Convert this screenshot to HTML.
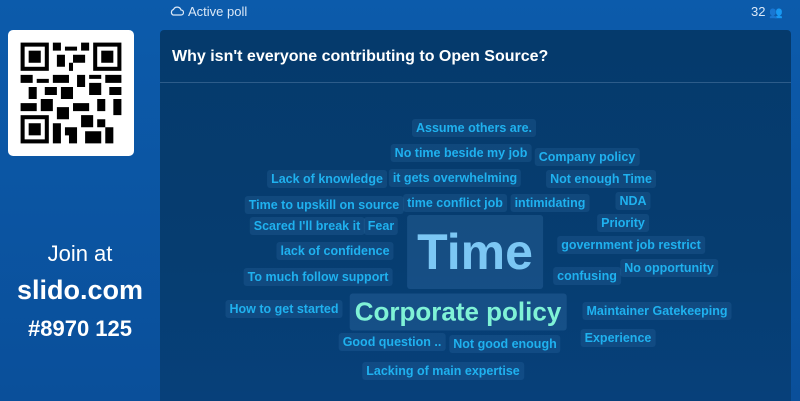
<!DOCTYPE html>
<html><head><meta charset="utf-8"><style>
html,body{margin:0;padding:0;}
body{width:800px;height:401px;overflow:hidden;position:relative;background:linear-gradient(180deg,#0c5bab 0%,#0a4f9a 100%);font-family:"Liberation Sans",sans-serif;}
.top{position:absolute;top:4px;color:#dbe8f7;font-size:13px;}
.qr{position:absolute;left:8px;top:30px;width:126px;height:126px;background:#fff;border-radius:5px;}
.join{position:absolute;left:0;width:160px;text-align:center;color:#fff;}
.panel{position:absolute;left:160px;top:30px;width:631px;height:371px;background:linear-gradient(180deg,#053a6c 0%,#063d70 60%,#07407a 100%);border-radius:4px 4px 0 0;}
.title{position:absolute;left:12px;top:18px;color:#fff;font-weight:bold;font-size:16px;}
.sep{position:absolute;left:0;right:0;top:52px;height:1px;background:#2d5c8a;}
.w{position:absolute;transform:translate(-50%,-50%);white-space:nowrap;font-weight:bold;font-size:12.5px;color:#1fb1ef;background:rgba(80,150,210,0.15);padding:2px 4px;border-radius:3px;}
</style></head><body>
<div class="top" style="left:170px"><svg width="14" height="10" viewBox="0 0 14 10" style="margin-right:4px"><path d="M3 9 A3 3 0 0 1 3.5 3.5 A4 4 0 0 1 11 4 A2.5 2.5 0 0 1 11 9 Z" fill="none" stroke="#dbe8f7" stroke-width="1.2"/></svg>Active poll</div>
<div class="top" style="left:751px">32 <span style="font-size:11px">&#128101;</span></div>
<div class="qr">
<svg width="126" height="126" viewBox="0 0 25 25" style="position:absolute;left:0;top:0">
<g transform="translate(2.5,2.5) scale(0.8)">
<rect x="0" y="0" width="7" height="7" fill="#000"/><rect x="1" y="1" width="5" height="5" fill="#fff"/><rect x="2" y="2" width="3" height="3" fill="#000"/>
<rect x="18" y="0" width="7" height="7" fill="#000"/><rect x="19" y="1" width="5" height="5" fill="#fff"/><rect x="20" y="2" width="3" height="3" fill="#000"/>
<rect x="0" y="18" width="7" height="7" fill="#000"/><rect x="1" y="19" width="5" height="5" fill="#fff"/><rect x="2" y="20" width="3" height="3" fill="#000"/>
<path d="M8 0h2v2h-2zM11 1h3v1h-3zM9 3h2v3h-2zM13 3h3v2h-3zM15 0h2v2h-2zM12 5h1v2h-1zM0 8h3v2h-3zM4 9h3v1h-3zM8 8h4v2h-4zM14 8h2v3h-2zM17 8h3v1h-3zM21 8h4v2h-4zM2 11h2v3h-2zM6 11h3v2h-3zM10 11h3v3h-3zM17 10h3v3h-3zM22 11h3v2h-3zM0 15h4v2h-4zM5 14h3v3h-3zM13 15h4v2h-4zM19 14h2v3h-2zM23 14h2v4h-2zM9 16h3v3h-3zM8 20h2v5h-2zM11 21h3v2h-3zM15 18h3v3h-3zM19 19h2v2h-2zM16 22h4v3h-4zM21 21h2v4h-2zM12 23h2v2h-2z" fill="#000"/>
</g></svg></div>
<div class="join" style="top:241px;font-size:22px">Join at</div>
<div class="join" style="top:275px;font-size:27px;font-weight:bold">slido.com</div>
<div class="join" style="top:316px;font-size:22px;font-weight:bold">#8970 125</div>
<div class="panel">
<div class="title">Why isn't everyone contributing to Open Source?</div>
<div class="sep"></div>
</div>
<div id="cloud"></div>
<script>
const words=["Assume others are.","No time beside my job","Company policy","Lack of knowledge","it gets overwhelming","Not enough Time","Time to upskill on source","time conflict job","intimidating","NDA","Scared I'll break it","Fear","Priority","Time","government job restrict","lack of confidence","No opportunity","To much follow support","confusing","How to get started","Corporate policy","Maintainer Gatekeeping","Good question ..","Not good enough","Experience","Lacking of main expertise"];
const wx=[474,461,587,327,455,601,324,455,550,633,307,381,623,475,631,335,669,318,587,284,458,657,392,505,618,443];
const wy=[128,153,157,179,178,179,205,203,203,201,226,226,223,252,245,251,268,277,276,309,312,311,342,344,338,371];
const wsize=[12.5,12.5,12.5,12.5,12.5,12.5,12.5,12.5,12.5,12.5,12.5,12.5,12.5,50,12.5,12.5,12.5,12.5,12.5,12.5,26,12.5,12.5,12.5,12.5,12.5];
const cloud=document.getElementById('cloud');
words.forEach((t,i)=>{
 const d=document.createElement('div');
 d.className='w';d.textContent=t;
 d.style.left=wx[i]+'px';d.style.top=wy[i]+'px';d.style.fontSize=wsize[i]+'px';
 if(t==='Time'){d.style.color='#7cc7f4';d.style.padding='8px 10px';d.style.background='rgba(90,150,210,0.2)';}
 if(t==='Corporate policy'){d.style.color='#7ff2d6';d.style.padding='3px 5px';d.style.background='rgba(90,150,210,0.2)';}
 
 
 cloud.appendChild(d);
});
</script>
</body></html>
